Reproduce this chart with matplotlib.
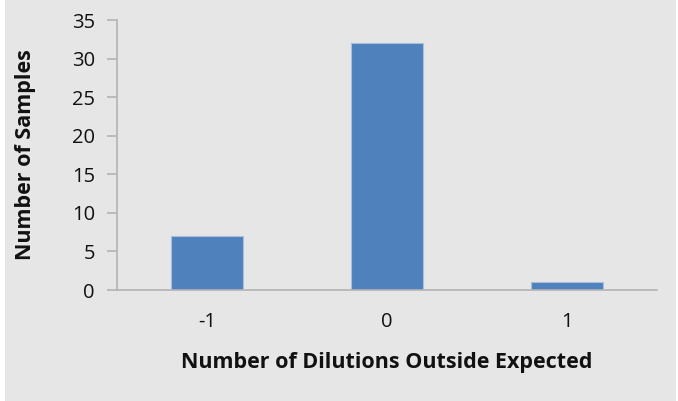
import matplotlib
matplotlib.use("Agg")
import matplotlib.pyplot as plt
from matplotlib.patches import Rectangle

categories = ["-1", "0", "1"]
samples = [7, 32, 1]
y_ticks = [0, 5, 10, 15, 20, 25, 30, 35]

plt.rcParams['font.family'] = ['Open Sans', 'DejaVu Sans']

fig = plt.figure(figsize=(6.78, 4.01), dpi=100, facecolor='white')
# grey chart area with thin white margin on the sides
fig.patches.append(Rectangle((0.008, 0.0), 0.989, 1.0, transform=fig.transFigure,
                             facecolor='#e6e6e6', edgecolor='none', zorder=-10))

ax = fig.add_axes([0.1726, 0.2768, 0.7964, 0.6732])
ax.set_facecolor('none')

x = range(len(categories))
ax.bar(x, samples, width=0.4, color='#4f81bd', edgecolor='#a9bfdc', linewidth=0.8)

ax.set_xlim(-0.5, len(categories) - 0.5)
ax.set_ylim(0, 35)
ax.set_yticks(y_ticks)
ax.set_xticks(list(x))
ax.set_xticklabels(categories)

for side in ['top', 'right']:
    ax.spines[side].set_visible(False)
ax.spines['left'].set_color('#b3b3b3')
ax.spines['bottom'].set_color('#b3b3b3')
ax.spines['left'].set_linewidth(1.2)
ax.spines['bottom'].set_linewidth(1.2)

ax.tick_params(axis='y', length=7, width=1.2, color='#b3b3b3', labelsize=14.5,
               labelcolor='#111111', pad=9)
ax.tick_params(axis='x', length=0, labelsize=14.5, labelcolor='#111111', pad=16)

ax.set_ylabel("Number of Samples", fontsize=15.5, fontweight='bold',
              va='center', ha='center', color='#111111')
ax.yaxis.set_label_coords(-0.170, 0.5)
ax.set_xlabel("Number of Dilutions Outside Expected", fontsize=15.5,
              fontweight='bold', va='center', ha='center', color='#111111')
ax.xaxis.set_label_coords(0.5, -0.27)

fig.savefig("out.png", dpi=100, facecolor=fig.get_facecolor())
